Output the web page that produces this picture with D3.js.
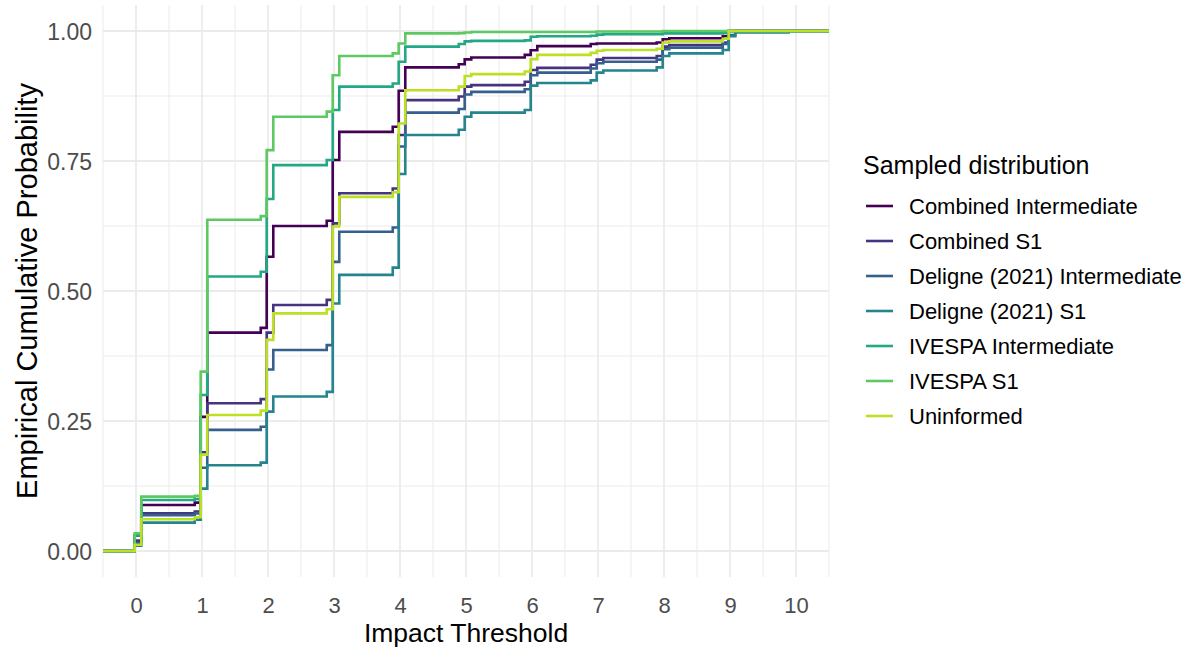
<!DOCTYPE html>
<html>
<head>
<meta charset="utf-8">
<script src="https://cdn.jsdelivr.net/npm/d3@7"></script>
<style>
  html, body { margin: 0; padding: 0; background: #fff; }
  svg { display: block; font-family: "Liberation Sans", Arial, sans-serif; }
</style>
</head>
<body>
<svg id="chart" width="1190" height="648"></svg>
<script>
// Series names, in legend order
const seriesNames = [
  "Combined Intermediate",
  "Combined S1",
  "Deligne (2021) Intermediate",
  "Deligne (2021) S1",
  "IVESPA Intermediate",
  "IVESPA S1",
  "Uninformed"
];

// Impact threshold values at which the empirical CDFs step
const stepX = [
  -0.02, 0.08,
  0.89, 0.98, 1.08,
  1.89, 1.98, 2.08,
  2.89, 2.98, 3.08,
  3.89, 3.98, 4.08,
  4.89, 4.98, 5.08,
  5.89, 5.98, 6.08,
  6.89, 6.98, 7.08,
  7.89, 7.98, 8.08,
  8.89, 8.98, 9.08,
  9.89
];

// Cumulative probability reached at each step, one array per series
const combinedIntermediate = [
  0.030, 0.0885,
  0.093, 0.258, 0.420,
  0.429, 0.566, 0.625,
  0.635, 0.752, 0.806,
  0.816, 0.885, 0.930,
  0.936, 0.9455, 0.949,
  0.954, 0.963, 0.971,
  0.975, 0.976, 0.976,
  0.978, 0.984, 0.986,
  0.990, 1.000, 1.000,
  1.000
];
const combinedS1 = [
  0.020, 0.0724,
  0.076, 0.190, 0.284,
  0.292, 0.420, 0.473,
  0.483, 0.630, 0.688,
  0.697, 0.800, 0.867,
  0.874, 0.893, 0.896,
  0.9025, 0.925, 0.929,
  0.935, 0.945, 0.948,
  0.952, 0.970, 0.973,
  0.978, 1.000, 1.000,
  1.000
];
const deligneIntermediate = [
  0.015, 0.069,
  0.072, 0.160, 0.233,
  0.239, 0.349, 0.3865,
  0.396, 0.556, 0.614,
  0.622, 0.778, 0.843,
  0.850, 0.878, 0.883,
  0.888, 0.915, 0.920,
  0.928, 0.938, 0.941,
  0.945, 0.965, 0.968,
  0.975, 0.992, 1.000,
  1.000
];
const deligneS1 = [
  0.010, 0.0545,
  0.060, 0.120, 0.165,
  0.170, 0.268, 0.297,
  0.306, 0.476, 0.531,
  0.545, 0.725, 0.800,
  0.810, 0.835, 0.843,
  0.848, 0.895, 0.900,
  0.905, 0.920, 0.924,
  0.930, 0.952, 0.957,
  0.9635, 0.990, 0.997,
  1.000
];
const ivespaIntermediate = [
  0.030, 0.098,
  0.100, 0.300, 0.528,
  0.537, 0.677, 0.742,
  0.752, 0.848, 0.893,
  0.899, 0.941, 0.970,
  0.975, 0.980, 0.981,
  0.982, 0.989, 0.990,
  0.991, 0.993, 0.994,
  0.994, 0.9955, 0.9955,
  0.996, 1.000, 1.000,
  1.000
];
const ivespaS1 = [
  0.034, 0.1045,
  0.106, 0.345, 0.637,
  0.644, 0.771, 0.835,
  0.845, 0.915, 0.952,
  0.957, 0.976, 0.9955,
  0.996, 0.997, 0.998,
  0.998, 0.998, 0.998,
  0.998, 0.999, 0.999,
  0.999, 1.000, 1.000,
  1.000, 1.000, 1.000,
  1.000
];
const uninformed = [
  0.012, 0.061,
  0.065, 0.185, 0.2615,
  0.270, 0.406, 0.457,
  0.465, 0.624, 0.681,
  0.690, 0.822, 0.886,
  0.893, 0.9135, 0.917,
  0.922, 0.946, 0.954,
  0.958, 0.962, 0.9635,
  0.966, 0.978, 0.980,
  0.985, 1.000, 1.000,
  1.000
];

const seriesValues = [
  combinedIntermediate, combinedS1, deligneIntermediate, deligneS1,
  ivespaIntermediate, ivespaS1, uninformed
];

const xTicks = [0, 1, 2, 3, 4, 5, 6, 7, 8, 9, 10];
const yTicks = [0, 0.25, 0.5, 0.75, 1];
const yTickLabels = ["0.00", "0.25", "0.50", "0.75", "1.00"];

// ---- layout ----
const svg = d3.select("#chart");
const panel = { left: 103, right: 829, top: 5, bottom: 577 };

const x = d3.scaleLinear().domain([-0.5, 10.5]).range([panel.left, panel.right]);
const y = d3.scaleLinear().domain([-0.05, 1.05]).range([panel.bottom, panel.top]);

const color = d3.scaleOrdinal()
  .domain(seriesNames)
  .range(seriesNames.map((_, i) => d3.interpolateViridis(i * 0.9 / (seriesNames.length - 1))));

const gridColor = "#EBEBEB";

// minor grid
const xMinor = d3.range(-0.5, 10.51, 1);
const yMinor = [0.125, 0.375, 0.625, 0.875];
const grid = svg.append("g");
grid.selectAll(".xm").data(xMinor).join("line")
  .attr("x1", d => x(d)).attr("x2", d => x(d))
  .attr("y1", panel.top).attr("y2", panel.bottom)
  .attr("stroke", gridColor).attr("stroke-width", 1);
grid.selectAll(".ym").data(yMinor).join("line")
  .attr("x1", panel.left).attr("x2", panel.right)
  .attr("y1", d => y(d)).attr("y2", d => y(d))
  .attr("stroke", gridColor).attr("stroke-width", 1);
// major grid
grid.selectAll(".xM").data(xTicks).join("line")
  .attr("x1", d => x(d)).attr("x2", d => x(d))
  .attr("y1", panel.top).attr("y2", panel.bottom)
  .attr("stroke", gridColor).attr("stroke-width", 1.8);
grid.selectAll(".yM").data(yTicks).join("line")
  .attr("x1", panel.left).attr("x2", panel.right)
  .attr("y1", d => y(d)).attr("y2", d => y(d))
  .attr("stroke", gridColor).attr("stroke-width", 1.8);

// ---- ECDF step lines ----
const line = d3.line()
  .x(d => x(d[0]))
  .y(d => y(d[1]))
  .curve(d3.curveStepAfter);

const lines = svg.append("g");
seriesNames.forEach((name, i) => {
  const vals = seriesValues[i];
  const pts = [[-0.5, 0]].concat(stepX.map((sx, j) => [sx, vals[j]]));
  pts.push([10.5, vals[vals.length - 1]]);
  lines.append("path")
    .datum(pts)
    .attr("d", line)
    .attr("fill", "none")
    .attr("stroke", color(name))
    .attr("stroke-width", 2.6)
    .attr("stroke-linejoin", "miter");
});

// ---- axes ----
const xAxis = d3.axisBottom(x).tickValues(xTicks).tickSize(0).tickPadding(0).tickFormat(d3.format("d"));
const gx = svg.append("g").attr("transform", `translate(0,${panel.bottom})`).call(xAxis);
gx.select(".domain").remove();
gx.selectAll("text")
  .attr("y", 36)
  .attr("dy", null)
  .attr("fill", "#4D4D4D")
  .style("font-size", "22px")
  .style("font-family", "'Liberation Sans', Arial, sans-serif");

const yAxis = d3.axisLeft(y).tickValues(yTicks).tickSize(0).tickPadding(0)
  .tickFormat((d, i) => yTickLabels[i]);
const gy = svg.append("g").attr("transform", `translate(${panel.left},0)`).call(yAxis);
gy.select(".domain").remove();
gy.selectAll("text")
  .attr("x", -11)
  .attr("dy", "0.35em")
  .attr("fill", "#4D4D4D")
  .style("font-size", "23px")
  .style("font-family", "'Liberation Sans', Arial, sans-serif");

// axis titles
svg.append("text")
  .attr("x", (panel.left + panel.right) / 2)
  .attr("y", 642)
  .attr("text-anchor", "middle")
  .attr("fill", "#000")
  .style("font-size", "26.5px")
  .text("Impact Threshold");

svg.append("text")
  .attr("transform", `translate(37,${(panel.top + panel.bottom) / 2}) rotate(-90)`)
  .attr("text-anchor", "middle")
  .attr("fill", "#000")
  .style("font-size", "29px")
  .text("Empirical Cumulative Probability");

// ---- legend ----
const legend = svg.append("g").attr("transform", "translate(863,0)");
legend.append("text")
  .attr("x", 0).attr("y", 174)
  .attr("fill", "#000")
  .style("font-size", "25px")
  .text("Sampled distribution");

const item = legend.selectAll(".item").data(seriesNames).join("g")
  .attr("transform", (d, i) => `translate(0,${206 + i * 35})`);
item.append("line")
  .attr("x1", 3).attr("x2", 30)
  .attr("y1", 0).attr("y2", 0)
  .attr("stroke", d => color(d))
  .attr("stroke-width", 2.6);
item.append("text")
  .attr("x", 46).attr("y", 0).attr("dy", "0.36em")
  .attr("fill", "#000")
  .style("font-size", "22px")
  .text(d => d);
</script>
</body>
</html>
